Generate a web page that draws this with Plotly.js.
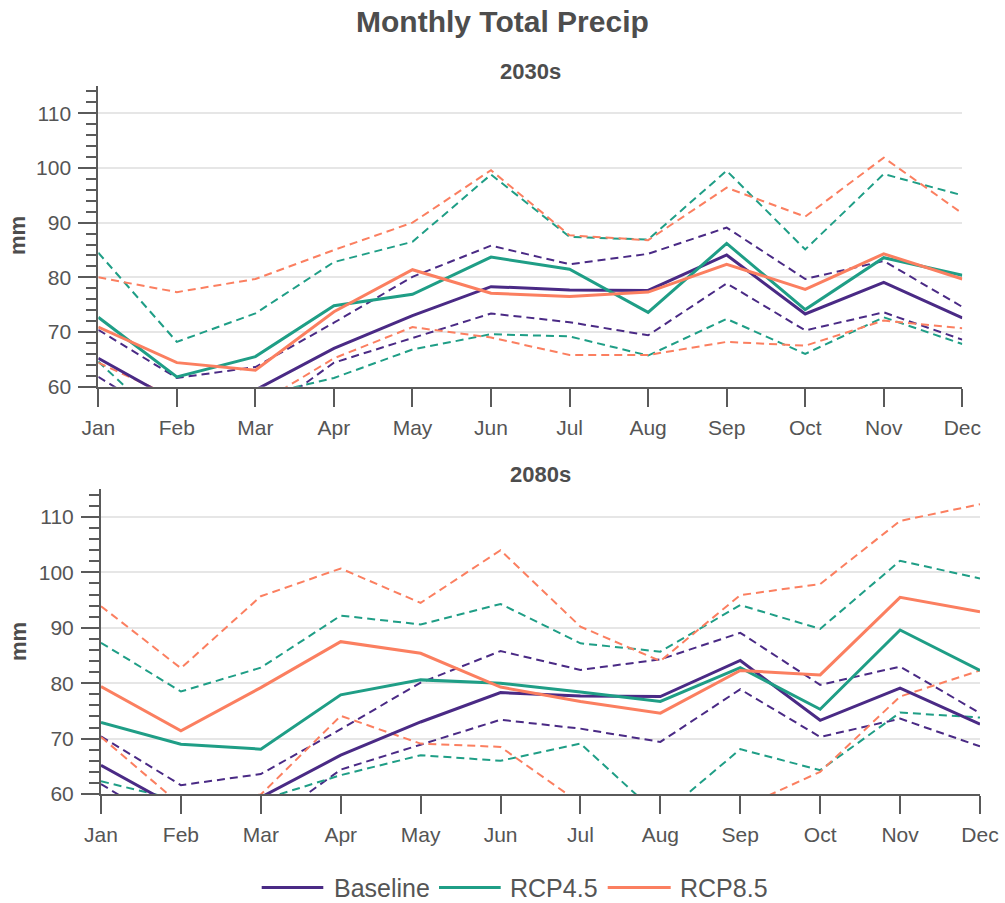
<!DOCTYPE html>
<html>
<head>
<meta charset="utf-8">
<script src="https://cdn.plot.ly/plotly-3.0.1.min.js"></script>
<style>html,body{margin:0;padding:0;background:#fff;}#chart{width:1005px;height:903px;}</style>
</head>
<body>
<div id="chart"></div>
<script>
// ---------- data ----------
const months = ["Jan","Feb","Mar","Apr","May","Jun","Jul","Aug","Sep","Oct","Nov","Dec"];
const seriesNames = ["Baseline","RCP4.5","RCP8.5"];
const panelTitles = ["2030s","2080s"];
const yTickVals = [60,70,80,90,100,110];

// Baseline (same in both panels)
const baselineMean = [65.2, 57.2, 59.4, 67.0, 73.0, 78.3, 77.7, 77.6, 84.1, 73.3, 79.1, 72.6];
const baselineHigh = [70.4, 61.6, 63.6, 71.7, 80.1, 85.8, 82.4, 84.3, 89.1, 79.7, 83.0, 74.6];
const baselineLow  = [61.8, 53.0, 54.0, 64.4, 68.9, 73.4, 71.8, 69.4, 78.9, 70.3, 73.6, 68.6];

// 2030s
const rcp45Mean2030s = [72.7, 61.8, 65.5, 74.8, 76.9, 83.7, 81.5, 73.6, 86.2, 74.1, 83.6, 80.4];
const rcp45High2030s = [84.5, 68.2, 73.4, 82.8, 86.5, 98.8, 87.4, 86.9, 99.5, 85.1, 98.9, 95.0];
const rcp45Low2030s  = [64.6, 51.2, 58.2, 61.6, 66.8, 69.6, 69.2, 65.7, 72.4, 66.0, 72.7, 67.8];
const rcp85Mean2030s = [70.9, 64.4, 63.0, 73.7, 81.4, 77.1, 76.5, 77.3, 82.4, 77.8, 84.3, 79.7];
const rcp85High2030s = [80.0, 77.3, 79.7, 85.0, 90.0, 99.6, 87.7, 86.8, 96.4, 91.1, 101.9, 91.7];
const rcp85Low2030s  = [64.4, 57.8, 56.5, 65.2, 70.9, 69.0, 65.8, 65.8, 68.2, 67.5, 72.1, 70.7];

// 2080s
const rcp45Mean2080s = [72.9, 69.0, 68.1, 77.9, 80.6, 80.0, 78.4, 76.7, 82.8, 75.3, 89.6, 82.3];
const rcp45High2080s = [87.3, 78.5, 82.8, 92.2, 90.6, 94.3, 87.2, 85.7, 94.1, 89.8, 102.1, 98.9];
const rcp45Low2080s  = [62.3, 58.8, 58.9, 63.4, 67.0, 66.0, 69.1, 55.9, 68.1, 64.3, 74.7, 73.8];
const rcp85Mean2080s = [79.4, 71.4, 79.2, 87.5, 85.4, 79.3, 76.7, 74.6, 82.3, 81.5, 95.5, 92.9];
const rcp85High2080s = [93.9, 82.7, 95.7, 100.7, 94.5, 104.0, 90.2, 84.0, 95.9, 97.9, 109.3, 112.3];
const rcp85Low2080s  = [70.3, 58.0, 59.9, 74.1, 69.1, 68.5, 58.3, 55.0, 57.4, 64.0, 77.6, 82.3];

// ---------- style ----------
const colors = ["#4a2a85", "#1f9e86", "#fb7f60"];
const FONT = "Liberation Sans, Arial, Helvetica, sans-serif";
const TXT = "#555555";
const AX = "#5a5a5a";
const W = 1005, H = 903;

const panels = [
  {x:"x", y:"y", sets:[[baselineMean,baselineHigh,baselineLow],[rcp45Mean2030s,rcp45High2030s,rcp45Low2030s],[rcp85Mean2030s,rcp85High2030s,rcp85Low2030s]]},
  {x:"x2", y:"y2", sets:[[baselineMean,baselineHigh,baselineLow],[rcp45Mean2080s,rcp45High2080s,rcp45Low2080s],[rcp85Mean2080s,rcp85High2080s,rcp85Low2080s]]}
];

const traces = [];
panels.forEach(p => {
  // dashed bounds first
  p.sets.forEach((s, i) => {
    [s[1], s[2]].forEach(vals => traces.push({
      type:"scatter", mode:"lines", x:months, y:vals, xaxis:p.x, yaxis:p.y,
      line:{color:colors[i], width:2, dash:"8px,5px"}, showlegend:false, hoverinfo:"skip"
    }));
  });
  p.sets.forEach((s, i) => traces.push({
    type:"scatter", mode:"lines", x:months, y:s[0], xaxis:p.x, yaxis:p.y, name:seriesNames[i],
    line:{color:colors[i], width:3}, showlegend:false
  }));
});

function xAxis(domain, anchor){
  return {domain:domain, anchor:anchor, type:"category", range:[0,11], showline:true, linecolor:AX, linewidth:2,
    ticks:"outside", ticklen:18, tickwidth:2, tickcolor:AX, showgrid:false, zeroline:false,
    tickfont:{family:FONT, size:21, color:TXT}, ticklabelstandoff:3, fixedrange:true};
}
function yAxis(domain, anchor){
  return {domain:domain, anchor:anchor, range:[60,115], tickvals:yTickVals, showline:true, linecolor:AX, linewidth:2,
    ticks:"outside", ticklen:18, tickwidth:2, tickcolor:AX, showgrid:true, gridcolor:"#e6e6e6", gridwidth:2, zeroline:false,
    minor:{dtick:2, tick0:0, ticks:"outside", ticklen:10, tickwidth:2, tickcolor:AX, showgrid:false},
    tickfont:{family:FONT, size:21, color:TXT}, ticklabelstandoff:3, fixedrange:true};
}

const annotations = [
  {text:"<b>Monthly Total Precip</b>", x:502.5/W, y:1-21/H, xref:"paper", yref:"paper", xanchor:"center", yanchor:"middle", showarrow:false, font:{family:FONT, size:30, color:"#4d4d4d"}},
  {text:"<b>"+panelTitles[0]+"</b>", x:530/W, y:1-72/H, xref:"paper", yref:"paper", xanchor:"center", yanchor:"middle", showarrow:false, font:{family:FONT, size:22, color:"#4d4d4d"}},
  {text:"<b>"+panelTitles[1]+"</b>", x:540.5/W, y:1-475/H, xref:"paper", yref:"paper", xanchor:"center", yanchor:"middle", showarrow:false, font:{family:FONT, size:22, color:"#4d4d4d"}},
  {text:"<b>mm</b>", x:18/W, y:1-236/H, xref:"paper", yref:"paper", xanchor:"center", yanchor:"middle", textangle:-90, showarrow:false, font:{family:FONT, size:22, color:"#4d4d4d"}},
  {text:"<b>mm</b>", x:18/W, y:1-642/H, xref:"paper", yref:"paper", xanchor:"center", yanchor:"middle", textangle:-90, showarrow:false, font:{family:FONT, size:22, color:"#4d4d4d"}}
];

// legend (drawn as shapes + labels)
const legendY = 1-887.5/H;
const legendLines = [[261.7,323.3],[439,500.7],[607.7,670.7]];
const legendTextX = [332, 508, 678];
const shapes = [];
seriesNames.forEach((n,i) => {
  shapes.push({type:"line", xref:"paper", yref:"paper", x0:legendLines[i][0]/W, x1:legendLines[i][1]/W, y0:legendY, y1:legendY, line:{color:colors[i], width:3}});
  annotations.push({text:n, x:legendTextX[i]/W, y:legendY, xref:"paper", yref:"paper", xanchor:"left", yanchor:"middle", showarrow:false, font:{family:FONT, size:25, color:TXT}});
});

const layout = {
  width:W, height:H, margin:{l:0,r:0,t:0,b:0}, paper_bgcolor:"#fff", plot_bgcolor:"#fff",
  showlegend:false,
  xaxis: xAxis([98.3/W, 962.3/W], "y"),
  yaxis: yAxis([1-386.7/H, 1-86/H], "x"),
  xaxis2: xAxis([101/W, 980/W], "y2"),
  yaxis2: yAxis([1-794/H, 1-489.3/H], "x2"),
  annotations: annotations, shapes: shapes,
  font:{family:FONT, color:TXT}
};

Plotly.newPlot("chart", traces, layout, {displayModeBar:false, staticPlot:true});
</script>
</body>
</html>
